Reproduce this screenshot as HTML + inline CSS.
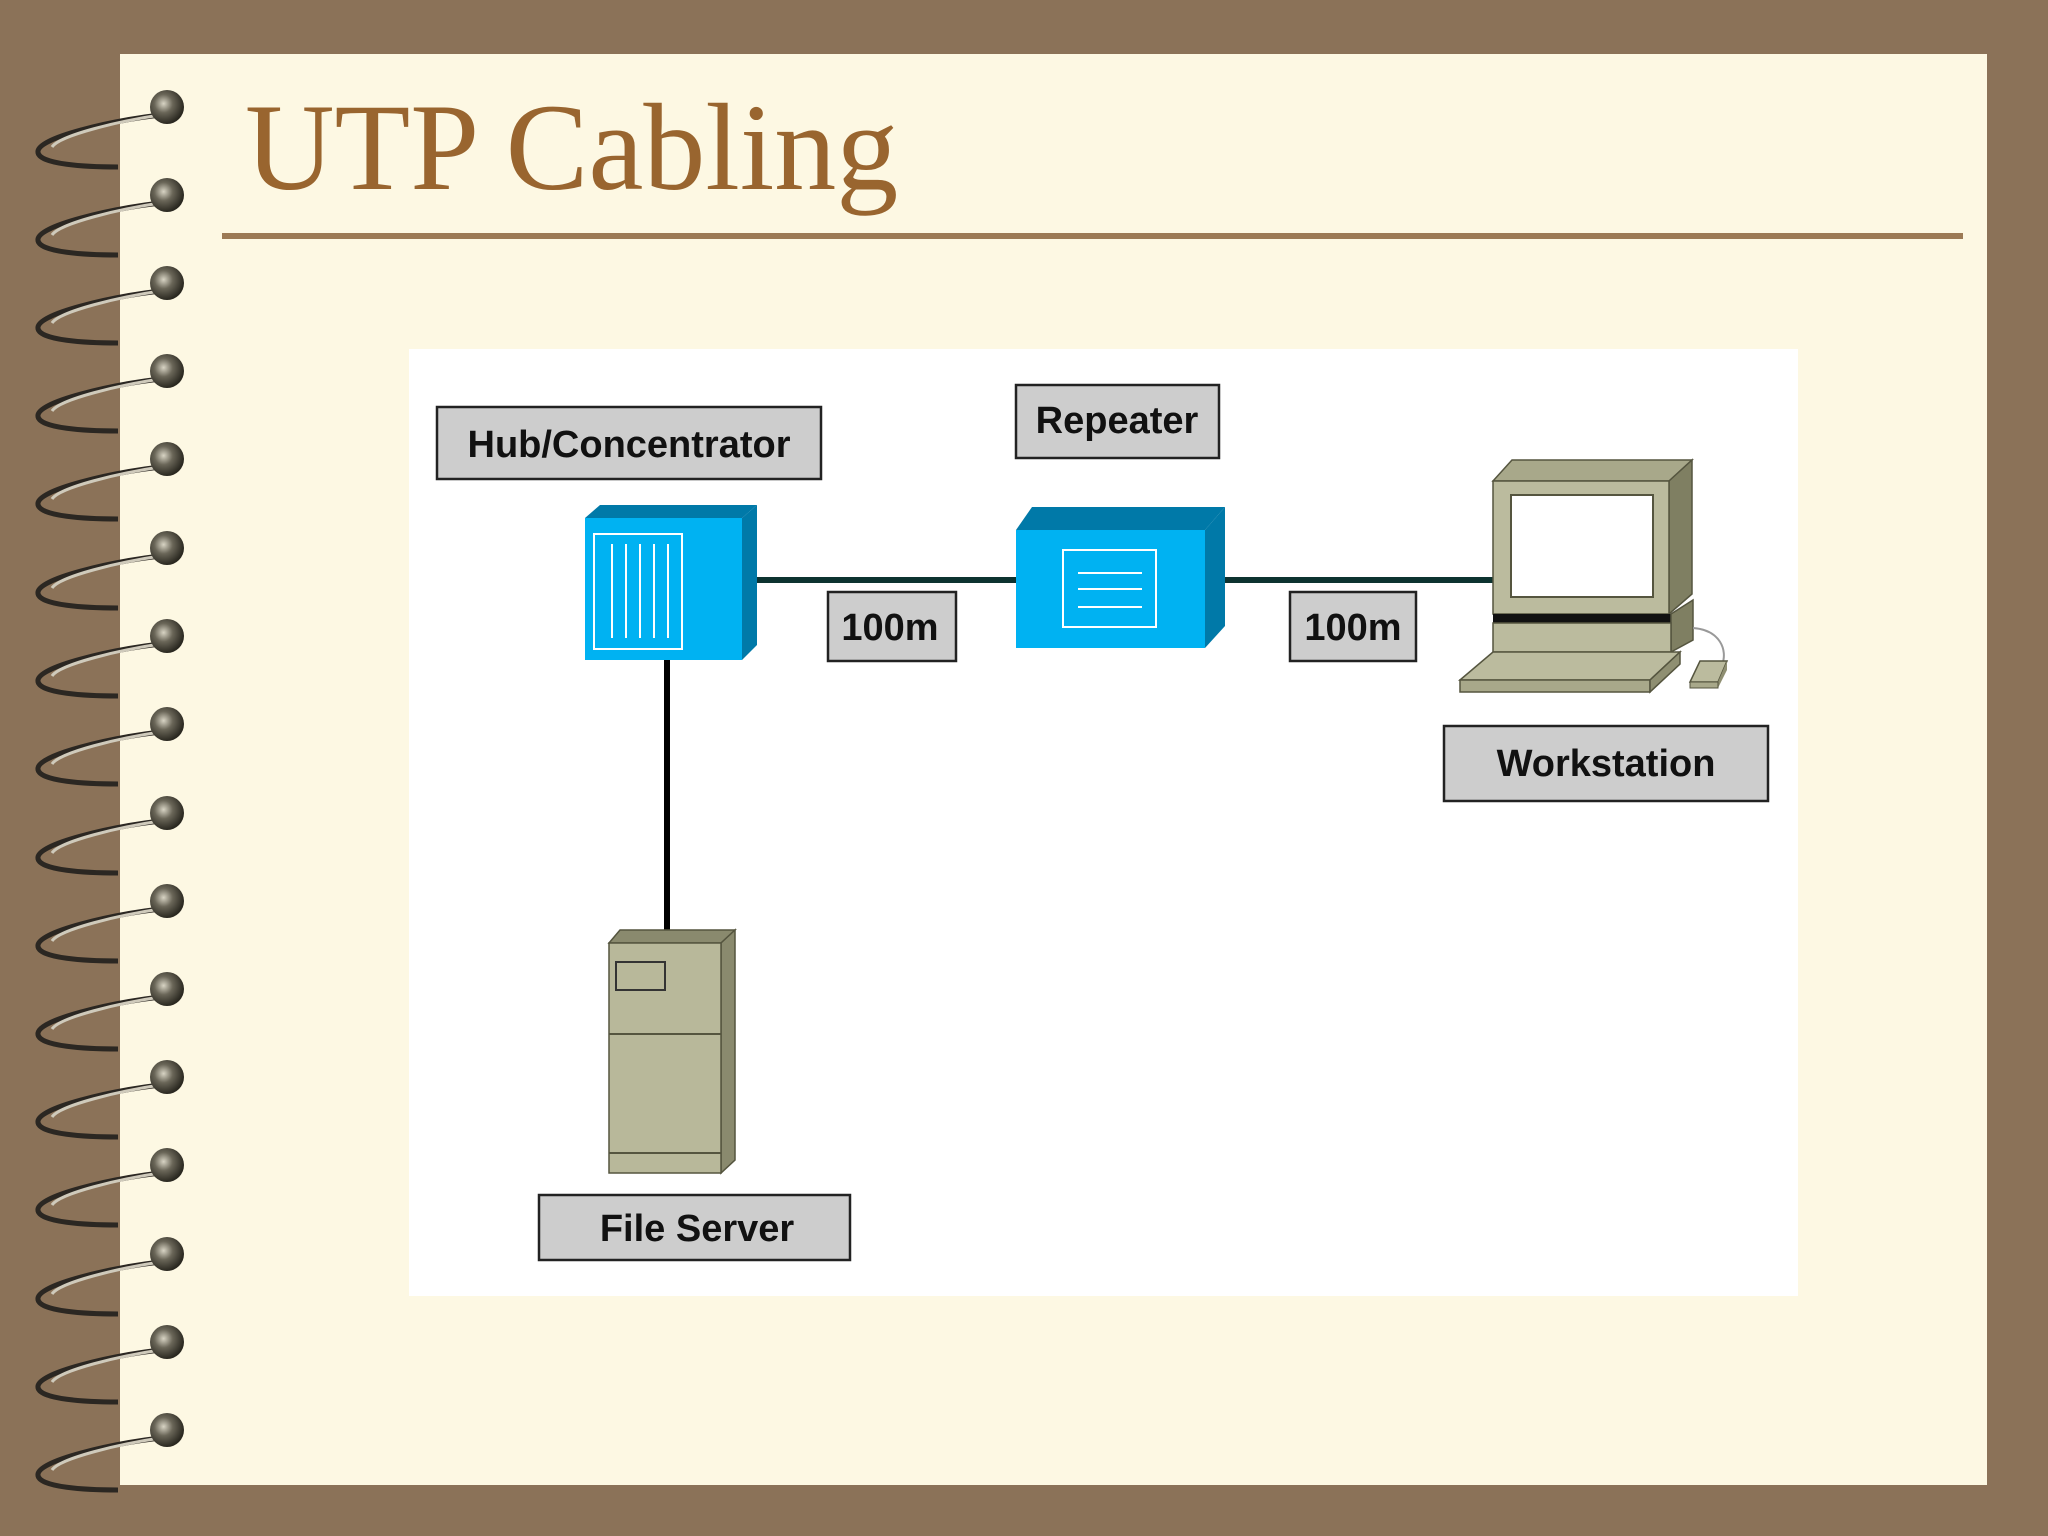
<!DOCTYPE html>
<html><head><meta charset="utf-8"><style>
html,body{margin:0;padding:0;background:#8B7258;}
svg{display:block}
</style></head><body>
<svg width="2048" height="1536" viewBox="0 0 2048 1536" xmlns="http://www.w3.org/2000/svg">
<defs>
<radialGradient id="ball" cx="0.4" cy="0.4" r="0.6">
<stop offset="0" stop-color="#d8d4c4"/><stop offset="0.45" stop-color="#6a6658"/><stop offset="1" stop-color="#2a2820"/>
</radialGradient>
</defs>
<rect width="2048" height="1536" fill="#8B7258"/>
<rect x="120" y="54" width="1867" height="1431" fill="#FDF8E3"/>
<text x="245" y="189" font-family="Liberation Serif, serif" font-size="124" fill="#99652F">UTP Cabling</text>
<rect x="222" y="233" width="1741" height="6" fill="#9C7A55"/>
<g>
<g transform="translate(0,107)"><path d="M160 8 C110 14 40 30 38 44 C36 58 90 60 118 60" stroke="#2b2722" stroke-width="5" fill="none"/><path d="M160 8 C120 14 60 28 52 40" stroke="#cfcabb" stroke-width="3" fill="none"/><circle cx="167" cy="0" r="17" fill="url(#ball)"/></g>
<g transform="translate(0,195)"><path d="M160 8 C110 14 40 30 38 44 C36 58 90 60 118 60" stroke="#2b2722" stroke-width="5" fill="none"/><path d="M160 8 C120 14 60 28 52 40" stroke="#cfcabb" stroke-width="3" fill="none"/><circle cx="167" cy="0" r="17" fill="url(#ball)"/></g>
<g transform="translate(0,283)"><path d="M160 8 C110 14 40 30 38 44 C36 58 90 60 118 60" stroke="#2b2722" stroke-width="5" fill="none"/><path d="M160 8 C120 14 60 28 52 40" stroke="#cfcabb" stroke-width="3" fill="none"/><circle cx="167" cy="0" r="17" fill="url(#ball)"/></g>
<g transform="translate(0,371)"><path d="M160 8 C110 14 40 30 38 44 C36 58 90 60 118 60" stroke="#2b2722" stroke-width="5" fill="none"/><path d="M160 8 C120 14 60 28 52 40" stroke="#cfcabb" stroke-width="3" fill="none"/><circle cx="167" cy="0" r="17" fill="url(#ball)"/></g>
<g transform="translate(0,459)"><path d="M160 8 C110 14 40 30 38 44 C36 58 90 60 118 60" stroke="#2b2722" stroke-width="5" fill="none"/><path d="M160 8 C120 14 60 28 52 40" stroke="#cfcabb" stroke-width="3" fill="none"/><circle cx="167" cy="0" r="17" fill="url(#ball)"/></g>
<g transform="translate(0,548)"><path d="M160 8 C110 14 40 30 38 44 C36 58 90 60 118 60" stroke="#2b2722" stroke-width="5" fill="none"/><path d="M160 8 C120 14 60 28 52 40" stroke="#cfcabb" stroke-width="3" fill="none"/><circle cx="167" cy="0" r="17" fill="url(#ball)"/></g>
<g transform="translate(0,636)"><path d="M160 8 C110 14 40 30 38 44 C36 58 90 60 118 60" stroke="#2b2722" stroke-width="5" fill="none"/><path d="M160 8 C120 14 60 28 52 40" stroke="#cfcabb" stroke-width="3" fill="none"/><circle cx="167" cy="0" r="17" fill="url(#ball)"/></g>
<g transform="translate(0,724)"><path d="M160 8 C110 14 40 30 38 44 C36 58 90 60 118 60" stroke="#2b2722" stroke-width="5" fill="none"/><path d="M160 8 C120 14 60 28 52 40" stroke="#cfcabb" stroke-width="3" fill="none"/><circle cx="167" cy="0" r="17" fill="url(#ball)"/></g>
<g transform="translate(0,813)"><path d="M160 8 C110 14 40 30 38 44 C36 58 90 60 118 60" stroke="#2b2722" stroke-width="5" fill="none"/><path d="M160 8 C120 14 60 28 52 40" stroke="#cfcabb" stroke-width="3" fill="none"/><circle cx="167" cy="0" r="17" fill="url(#ball)"/></g>
<g transform="translate(0,901)"><path d="M160 8 C110 14 40 30 38 44 C36 58 90 60 118 60" stroke="#2b2722" stroke-width="5" fill="none"/><path d="M160 8 C120 14 60 28 52 40" stroke="#cfcabb" stroke-width="3" fill="none"/><circle cx="167" cy="0" r="17" fill="url(#ball)"/></g>
<g transform="translate(0,989)"><path d="M160 8 C110 14 40 30 38 44 C36 58 90 60 118 60" stroke="#2b2722" stroke-width="5" fill="none"/><path d="M160 8 C120 14 60 28 52 40" stroke="#cfcabb" stroke-width="3" fill="none"/><circle cx="167" cy="0" r="17" fill="url(#ball)"/></g>
<g transform="translate(0,1077)"><path d="M160 8 C110 14 40 30 38 44 C36 58 90 60 118 60" stroke="#2b2722" stroke-width="5" fill="none"/><path d="M160 8 C120 14 60 28 52 40" stroke="#cfcabb" stroke-width="3" fill="none"/><circle cx="167" cy="0" r="17" fill="url(#ball)"/></g>
<g transform="translate(0,1165)"><path d="M160 8 C110 14 40 30 38 44 C36 58 90 60 118 60" stroke="#2b2722" stroke-width="5" fill="none"/><path d="M160 8 C120 14 60 28 52 40" stroke="#cfcabb" stroke-width="3" fill="none"/><circle cx="167" cy="0" r="17" fill="url(#ball)"/></g>
<g transform="translate(0,1254)"><path d="M160 8 C110 14 40 30 38 44 C36 58 90 60 118 60" stroke="#2b2722" stroke-width="5" fill="none"/><path d="M160 8 C120 14 60 28 52 40" stroke="#cfcabb" stroke-width="3" fill="none"/><circle cx="167" cy="0" r="17" fill="url(#ball)"/></g>
<g transform="translate(0,1342)"><path d="M160 8 C110 14 40 30 38 44 C36 58 90 60 118 60" stroke="#2b2722" stroke-width="5" fill="none"/><path d="M160 8 C120 14 60 28 52 40" stroke="#cfcabb" stroke-width="3" fill="none"/><circle cx="167" cy="0" r="17" fill="url(#ball)"/></g>
<g transform="translate(0,1430)"><path d="M160 8 C110 14 40 30 38 44 C36 58 90 60 118 60" stroke="#2b2722" stroke-width="5" fill="none"/><path d="M160 8 C120 14 60 28 52 40" stroke="#cfcabb" stroke-width="3" fill="none"/><circle cx="167" cy="0" r="17" fill="url(#ball)"/></g>
</g>
<rect x="409" y="349" width="1389" height="947" fill="#FFFFFF"/>
<rect x="757" y="577" width="259" height="6" fill="#0D3330"/>
<rect x="1222" y="577" width="272" height="6" fill="#0D3330"/>
<rect x="664" y="660" width="6" height="272" fill="#000"/>
<polygon points="585,518 600,505 757,505 742,518" fill="#0079A8"/>
<polygon points="742,518 757,505 757,645 742,660" fill="#0079A8"/>
<rect x="585" y="518" width="157" height="142" fill="#00B2F2"/>
<rect x="594" y="534" width="88" height="115" fill="none" stroke="#fff" stroke-width="2"/>
<g stroke="#fff" stroke-width="2"><line x1="612" y1="544" x2="612" y2="638"/><line x1="626" y1="544" x2="626" y2="638"/><line x1="640" y1="544" x2="640" y2="638"/><line x1="654" y1="544" x2="654" y2="638"/><line x1="668" y1="544" x2="668" y2="638"/></g>
<polygon points="1016,530 1032,507 1225,507 1205,530" fill="#0079A8"/>
<polygon points="1205,530 1225,507 1225,626 1205,648" fill="#0079A8"/>
<rect x="1016" y="530" width="189" height="118" fill="#00B2F2"/>
<rect x="1063" y="550" width="93" height="77" fill="none" stroke="#fff" stroke-width="2"/>
<g stroke="#fff" stroke-width="2"><line x1="1078" y1="573" x2="1142" y2="573"/><line x1="1078" y1="589" x2="1142" y2="589"/><line x1="1078" y1="607" x2="1142" y2="607"/></g>
<polygon points="609,943 620,930 735,930 721,943" fill="#8A8A6E" stroke="#55553f" stroke-width="1.5"/>
<polygon points="721,943 735,930 735,1160 721,1173" fill="#8A8A6E" stroke="#55553f" stroke-width="1.5"/>
<rect x="609" y="943" width="112" height="230" fill="#B8B89A" stroke="#55553f" stroke-width="1.5"/>
<rect x="616" y="962" width="49" height="28" fill="#B8B89A" stroke="#333" stroke-width="2"/>
<line x1="609" y1="1034" x2="721" y2="1034" stroke="#55553f" stroke-width="2"/>
<line x1="609" y1="1153" x2="721" y2="1153" stroke="#55553f" stroke-width="2"/>
<polygon points="1493,481 1512,460 1692,460 1669,481" fill="#A8A88A" stroke="#55553f" stroke-width="1.5"/>
<polygon points="1669,481 1692,460 1692,594 1669,614" fill="#7F7F62" stroke="#55553f" stroke-width="1.5"/>
<rect x="1493" y="481" width="176" height="133" fill="#BBBB9E" stroke="#55553f" stroke-width="1.5"/>
<rect x="1511" y="495" width="142" height="102" fill="#fff" stroke="#55553f" stroke-width="2"/>
<rect x="1493" y="614" width="178" height="9" fill="#111"/>
<polygon points="1671,614 1693,600 1693,640 1671,652" fill="#7F7F62" stroke="#55553f" stroke-width="1.5"/>
<rect x="1493" y="623" width="178" height="29" fill="#BBBB9E" stroke="#55553f" stroke-width="1.5"/>
<polygon points="1460,680 1493,652 1680,652 1650,680" fill="#BBBB9E" stroke="#55553f" stroke-width="1.5"/>
<polygon points="1460,680 1650,680 1650,692 1460,692" fill="#A8A88A" stroke="#55553f" stroke-width="1.5"/>
<polygon points="1650,680 1680,652 1680,664 1650,692" fill="#8F8F72" stroke="#55553f" stroke-width="1.5"/>
<path d="M1693 628 C1720 630 1728 650 1722 665" stroke="#999" stroke-width="2" fill="none"/>
<polygon points="1690,682 1700,661 1727,661 1718,682" fill="#BBBB9E" stroke="#55553f" stroke-width="1.5"/>
<polygon points="1718,682 1727,661 1727,670 1718,688" fill="#8F8F72"/>
<rect x="1690" y="682" width="28" height="6" fill="#A8A88A" stroke="#55553f" stroke-width="1"/>
<g font-family="Liberation Sans, Arial, sans-serif" font-weight="bold" fill="#111" text-anchor="middle">
<rect x="437" y="407" width="384" height="72" fill="#CDCDCD" stroke="#222" stroke-width="2.5"/>
<text x="629" y="457" font-size="38">Hub/Concentrator</text>
<rect x="1016" y="385" width="203" height="73" fill="#CDCDCD" stroke="#222" stroke-width="2.5"/>
<text x="1117" y="433" font-size="38">Repeater</text>
<rect x="828" y="592" width="128" height="69" fill="#CDCDCD" stroke="#222" stroke-width="2.5"/>
<text x="890" y="640" font-size="38">100m</text>
<rect x="1290" y="592" width="126" height="69" fill="#CDCDCD" stroke="#222" stroke-width="2.5"/>
<text x="1353" y="640" font-size="38">100m</text>
<rect x="1444" y="726" width="324" height="75" fill="#CDCDCD" stroke="#222" stroke-width="2.5"/>
<text x="1606" y="776" font-size="38">Workstation</text>
<rect x="539" y="1195" width="311" height="65" fill="#CDCDCD" stroke="#222" stroke-width="2.5"/>
<text x="697" y="1241" font-size="38">File Server</text>
</g>
</svg>
</body></html>
